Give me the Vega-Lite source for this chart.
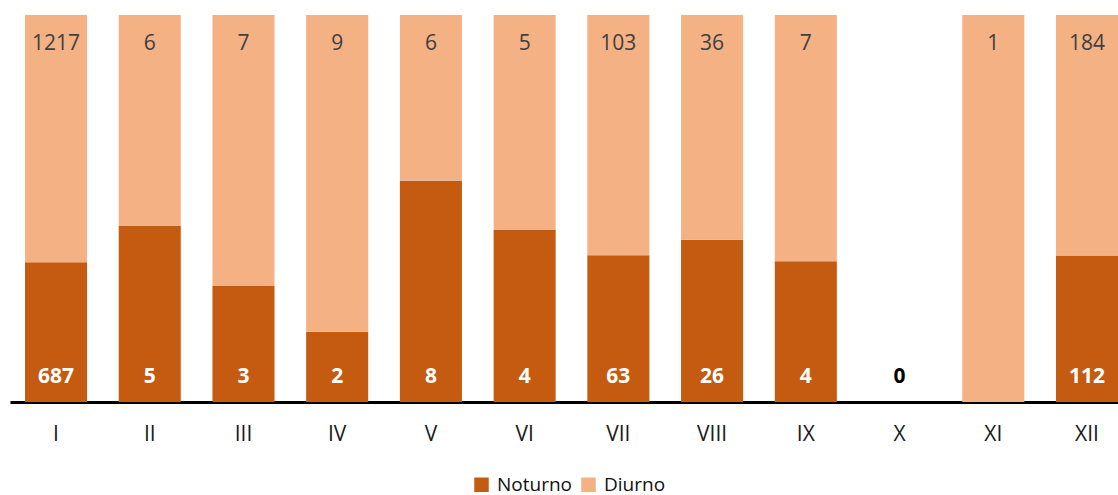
{
  "$schema": "https://vega.github.io/schema/vega-lite/v6.json",
  "width": 1123,
  "height": 387,
  "autosize": {"type": "none"},
  "padding": {"left": 10, "top": 15, "right": 0, "bottom": 93},
  "background": "white",
  "config": {"view": {"stroke": null}, "font": "Open Sans"},
  "data": {"values": [
    {"month": "I", "type": "Noturno", "value": 687},
    {"month": "I", "type": "Diurno", "value": 1217},
    {"month": "II", "type": "Noturno", "value": 5},
    {"month": "II", "type": "Diurno", "value": 6},
    {"month": "III", "type": "Noturno", "value": 3},
    {"month": "III", "type": "Diurno", "value": 7},
    {"month": "IV", "type": "Noturno", "value": 2},
    {"month": "IV", "type": "Diurno", "value": 9},
    {"month": "V", "type": "Noturno", "value": 8},
    {"month": "V", "type": "Diurno", "value": 6},
    {"month": "VI", "type": "Noturno", "value": 4},
    {"month": "VI", "type": "Diurno", "value": 5},
    {"month": "VII", "type": "Noturno", "value": 63},
    {"month": "VII", "type": "Diurno", "value": 103},
    {"month": "VIII", "type": "Noturno", "value": 26},
    {"month": "VIII", "type": "Diurno", "value": 36},
    {"month": "IX", "type": "Noturno", "value": 4},
    {"month": "IX", "type": "Diurno", "value": 7},
    {"month": "X", "type": "Noturno", "value": 0},
    {"month": "X", "type": "Diurno", "value": 0},
    {"month": "XI", "type": "Noturno", "value": 0},
    {"month": "XI", "type": "Diurno", "value": 1},
    {"month": "XII", "type": "Noturno", "value": 112},
    {"month": "XII", "type": "Diurno", "value": 184}
  ]},
  "encoding": {
    "x": {
      "field": "month", "type": "nominal", "sort": null,
      "scale": {"paddingInner": 0.338, "paddingOuter": 0.16},
      "axis": {"title": null, "labelAngle": 0, "ticks": false, "domainColor": "black", "domainWidth": 3, "labelFontSize": 21, "labelColor": "#1a1a1a", "labelPadding": 21, "labelFont": "Open Sans"}
    }
  },
  "layer": [
    {
      "mark": {"type": "bar"},
      "encoding": {
        "y": {"field": "value", "type": "quantitative", "stack": "normalize", "scale": {"domain": [0, 1]}, "axis": null},
        "color": {"field": "type", "type": "nominal",
          "scale": {"domain": ["Noturno", "Diurno"], "range": ["#C55A11", "#F4B183"]},
          "legend": {"title": null, "orient": "none", "direction": "horizontal", "legendX": 462, "legendY": 460, "labelFontSize": 19, "labelColor": "#111111", "symbolType": "square", "symbolSize": 210, "symbolStrokeWidth": 0, "labelOffset": 6, "columnPadding": 6, "labelFont": "Open Sans"}
        },
        "order": {"field": "order", "type": "quantitative"}
      },
      "transform": [{"calculate": "datum.type === 'Noturno' ? 0 : 1", "as": "order"}]
    },
    {
      "transform": [{"filter": "datum.type === 'Diurno' && datum.value > 0"}],
      "mark": {"type": "text", "fontSize": 21, "color": "#404040", "baseline": "middle"},
      "encoding": {
        "y": {"datum": 0.925},
        "text": {"field": "value", "type": "quantitative"}
      }
    },
    {
      "transform": [{"filter": "datum.type === 'Noturno' && (datum.value > 0 || datum.month === 'X')"}],
      "mark": {"type": "text", "fontSize": 21, "fontWeight": "bold", "baseline": "middle"},
      "encoding": {
        "y": {"datum": 0.064},
        "text": {"field": "value", "type": "quantitative"},
        "color": {"condition": {"test": "datum.value === 0", "value": "black"}, "value": "white"}
      }
    }
  ]
}
